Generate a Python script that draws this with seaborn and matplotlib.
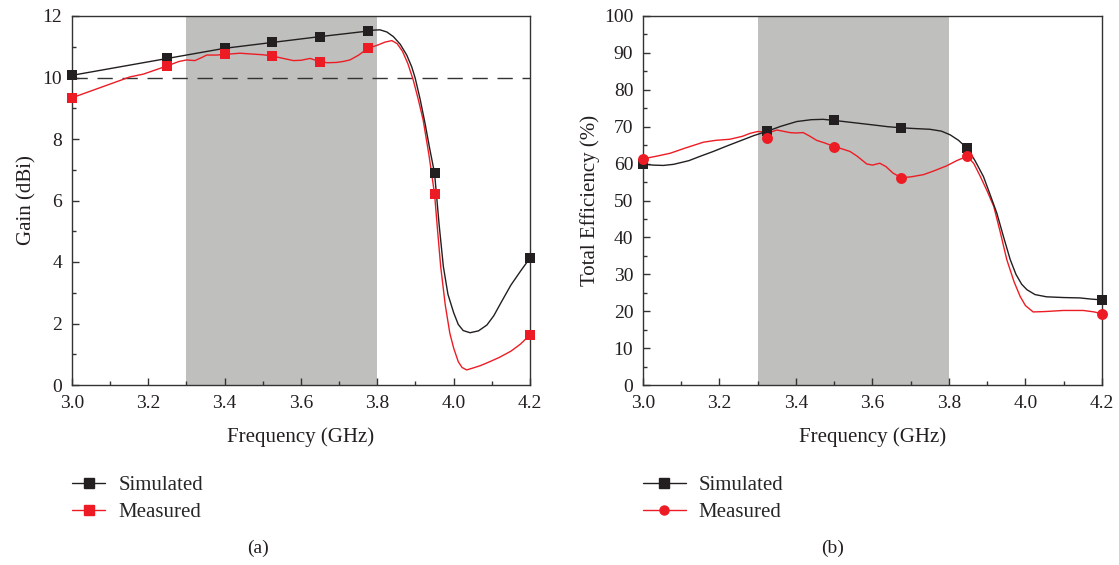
import numpy as np
import pandas as pd
import matplotlib
matplotlib.use("Agg")
import matplotlib.pyplot as plt
from matplotlib.lines import Line2D
from matplotlib.ticker import MultipleLocator, FormatStrFormatter
import seaborn as sns

# ---------------- data: (a) gain ----------------
gain_sim_line_x = [3.0, 3.25, 3.40, 3.525, 3.65, 3.776, 3.79, 3.807, 3.825, 3.842, 3.86,
                   3.877, 3.89, 3.899, 3.912, 3.925, 3.937, 3.95, 3.962, 3.973, 3.985,
                   4.0, 4.012, 4.025, 4.043, 4.065, 4.087, 4.105, 4.125, 4.15, 4.175, 4.2]
gain_sim_line_y = [10.07, 10.62, 10.95, 11.14, 11.33, 11.51, 11.54, 11.55, 11.48, 11.33, 11.08,
                   10.73, 10.35, 9.99, 9.3, 8.51, 7.7, 6.88, 5.2, 3.85, 2.95,
                   2.35, 1.97, 1.77, 1.70, 1.76, 1.95, 2.25, 2.7, 3.25, 3.7, 4.13]
gain_meas_line_x = [3.0, 3.152, 3.187, 3.25, 3.28, 3.30, 3.322, 3.34, 3.353, 3.379, 3.40,
                    3.44, 3.475, 3.50, 3.525, 3.55, 3.58, 3.60, 3.624, 3.65, 3.67, 3.693,
                    3.71, 3.728, 3.75, 3.776, 3.80, 3.82, 3.838, 3.852, 3.866, 3.88, 3.894,
                    3.907, 3.92, 3.935, 3.95, 3.958, 3.966, 3.978, 3.99, 4.0, 4.012, 4.022,
                    4.034, 4.05, 4.07, 4.095, 4.12, 4.15, 4.175, 4.2]
gain_meas_line_y = [9.34, 10.02, 10.11, 10.38, 10.52, 10.57, 10.55, 10.65, 10.73, 10.73, 10.75,
                    10.79, 10.76, 10.74, 10.70, 10.63, 10.55, 10.56, 10.62, 10.51, 10.48, 10.49,
                    10.52, 10.57, 10.72, 10.95, 11.05, 11.15, 11.20, 11.10, 10.85, 10.45, 9.92,
                    9.3, 8.62, 7.5, 6.20, 5.0, 3.85, 2.6, 1.68, 1.2, 0.76, 0.57,
                    0.49, 0.55, 0.63, 0.76, 0.9, 1.1, 1.33, 1.63]
gain_sim_mark_x = [3.0, 3.25, 3.40, 3.525, 3.65, 3.776, 3.95, 4.2]
gain_sim_mark_y = [10.07, 10.62, 10.95, 11.14, 11.33, 11.51, 6.88, 4.13]
gain_meas_mark_x = [3.0, 3.25, 3.40, 3.525, 3.65, 3.776, 3.95, 4.2]
gain_meas_mark_y = [9.34, 10.38, 10.75, 10.70, 10.51, 10.95, 6.20, 1.63]

# ---------------- data: (b) efficiency ----------------
eff_sim_line_x = [3.0, 3.025, 3.053, 3.08, 3.12, 3.15, 3.184, 3.22, 3.26, 3.29, 3.323, 3.36,
                  3.402, 3.44, 3.471, 3.50, 3.55, 3.60, 3.64, 3.675, 3.71, 3.75, 3.78, 3.803,
                  3.825, 3.848, 3.868, 3.89, 3.905, 3.925, 3.943, 3.96, 3.975, 3.99, 4.004,
                  4.025, 4.055, 4.10, 4.142, 4.17, 4.2]
eff_sim_line_y = [59.9, 59.6, 59.5, 59.8, 60.8, 62.0, 63.3, 64.8, 66.4, 67.6, 68.7, 70.1,
                  71.4, 71.9, 72.0, 71.7, 71.1, 70.5, 70.0, 69.7, 69.5, 69.3, 68.8, 67.8,
                  66.3, 64.1, 60.8, 56.5, 52.3, 46.6, 40.0, 34.0, 30.0, 27.3, 25.8,
                  24.5, 23.9, 23.7, 23.6, 23.3, 23.06]
eff_meas_line_x = [3.0, 3.035, 3.071, 3.11, 3.158, 3.19, 3.227, 3.26, 3.28, 3.30, 3.315,
                   3.323, 3.335, 3.35, 3.365, 3.384, 3.40, 3.419, 3.435, 3.454, 3.475, 3.50,
                   3.52, 3.541, 3.56, 3.585, 3.60, 3.619, 3.635, 3.654, 3.675, 3.70, 3.733,
                   3.76, 3.794, 3.82, 3.848, 3.865, 3.882, 3.90, 3.917, 3.935, 3.951, 3.97,
                   3.986, 4.0, 4.02, 4.05, 4.099, 4.151, 4.18, 4.2]
eff_meas_line_y = [61.3, 62.0, 62.8, 64.2, 65.8, 66.3, 66.6, 67.4, 68.2, 68.7, 68.6,
                   68.3, 68.6, 69.1, 68.8, 68.4, 68.3, 68.4, 67.5, 66.3, 65.6, 64.6,
                   64.0, 63.3, 62.0, 59.9, 59.6, 60.1, 59.2, 57.4, 56.2, 56.4, 57.0,
                   58.0, 59.4, 60.8, 62.0, 60.0, 56.5, 52.5, 48.4, 41.0, 34.0, 28.0,
                   24.0, 21.5, 19.8, 19.9, 20.2, 20.2, 19.8, 19.27]
eff_sim_mark_x = [3.0, 3.323, 3.50, 3.675, 3.848, 4.2]
eff_sim_mark_y = [59.9, 68.7, 71.7, 69.7, 64.1, 23.06]
eff_meas_mark_x = [3.0, 3.323, 3.50, 3.675, 3.848, 4.2]
eff_meas_mark_y = [61.3, 67.0, 64.6, 56.2, 62.0, 19.27]

series_labels = ["Simulated", "Measured"]
panel_labels = ["(a)", "(b)"]

BLACK = "#231f20"
RED = "#ed1c24"
SHADE = "#bfbfbd"
TXT = "#231f20"

sns.set_theme(style="ticks")
plt.rcParams["font.family"] = ["Liberation Serif", "DejaVu Serif"]

fig = plt.figure(figsize=(11.19, 5.65), dpi=100)
axL = fig.add_axes([72 / 1119, 1 - 385 / 565, 458 / 1119, 369 / 565])
axR = fig.add_axes([643 / 1119, 1 - 385 / 565, 459 / 1119, 369 / 565])


def draw(ax, sx, sy, mx, my, smx, smy, mmx, mmy, meas_marker):
    ax.axvspan(3.3, 3.8, color=SHADE, lw=0, zorder=0)
    d1 = pd.DataFrame({"x": sx, "y": sy})
    d2 = pd.DataFrame({"x": mx, "y": my})
    sns.lineplot(data=d2, x="x", y="y", ax=ax, color=RED, lw=1.0, sort=False,
                 estimator=None, zorder=3)
    sns.lineplot(data=d1, x="x", y="y", ax=ax, color=BLACK, lw=1.0, sort=False,
                 estimator=None, zorder=3)
    m1 = pd.DataFrame({"x": smx, "y": smy})
    m2 = pd.DataFrame({"x": mmx, "y": mmy})
    sns.scatterplot(data=m1, x="x", y="y", ax=ax, color=BLACK, marker="s", s=62,
                    linewidth=0, zorder=4, clip_on=False)
    sns.scatterplot(data=m2, x="x", y="y", ax=ax, color=RED, marker=meas_marker, s=62,
                    linewidth=0, zorder=5, clip_on=False)
    ax.set_xlim(3.0, 4.2)
    ax.xaxis.set_major_locator(MultipleLocator(0.2))
    ax.xaxis.set_minor_locator(MultipleLocator(0.1))
    ax.xaxis.set_major_formatter(FormatStrFormatter("%.1f"))
    ax.tick_params(which="both", direction="in", top=False, right=False,
                   color="#333333", labelsize=14, labelcolor=TXT, pad=7)
    ax.tick_params(which="major", length=5, width=1)
    ax.tick_params(which="minor", length=3, width=1)
    for sp in ax.spines.values():
        sp.set_color("#333333")
        sp.set_linewidth(1.0)
        sp.set_visible(True)
    ax.set_xlabel("Frequency (GHz)", fontsize=15, color=TXT, labelpad=11)


draw(axL, gain_sim_line_x, gain_sim_line_y, gain_meas_line_x, gain_meas_line_y,
     gain_sim_mark_x, gain_sim_mark_y, gain_meas_mark_x, gain_meas_mark_y, "s")
axL.axhline(10, color="#333333", lw=1.0, dashes=(11, 7), zorder=2)
axL.set_ylim(0, 12)
axL.yaxis.set_major_locator(MultipleLocator(2))
axL.yaxis.set_minor_locator(MultipleLocator(1))
axL.set_ylabel("Gain (dBi)", fontsize=15, color=TXT, labelpad=4)

draw(axR, eff_sim_line_x, eff_sim_line_y, eff_meas_line_x, eff_meas_line_y,
     eff_sim_mark_x, eff_sim_mark_y, eff_meas_mark_x, eff_meas_mark_y, "o")
axR.set_ylim(0, 100)
axR.yaxis.set_major_locator(MultipleLocator(10))
axR.yaxis.set_minor_locator(MultipleLocator(5))
axR.set_ylabel("Total Efficiency (%)", fontsize=15, color=TXT, labelpad=3)


def legend(ax, meas_marker, hlen):
    h = [Line2D([], [], color=BLACK, lw=1.0, marker="s", markersize=6.5, mec=BLACK),
         Line2D([], [], color=RED, lw=1.0, marker=meas_marker, markersize=6.5, mec=RED)]
    ax.legend(h, series_labels, loc="upper left",
              bbox_to_anchor=(0.0, -0.245), frameon=False, fontsize=15,
              handlelength=hlen, handletextpad=0.62, labelspacing=0.35,
              borderaxespad=0, borderpad=0)


legend(axL, "s", 1.6)
legend(axR, "o", 2.06)

fig.text(258 / 1119, 1 - 548 / 565, panel_labels[0], ha="center", va="center",
         fontsize=14, color=TXT)
fig.text(833 / 1119, 1 - 548 / 565, panel_labels[1], ha="center", va="center",
         fontsize=14, color=TXT)

fig.savefig("out.png", dpi=100)
